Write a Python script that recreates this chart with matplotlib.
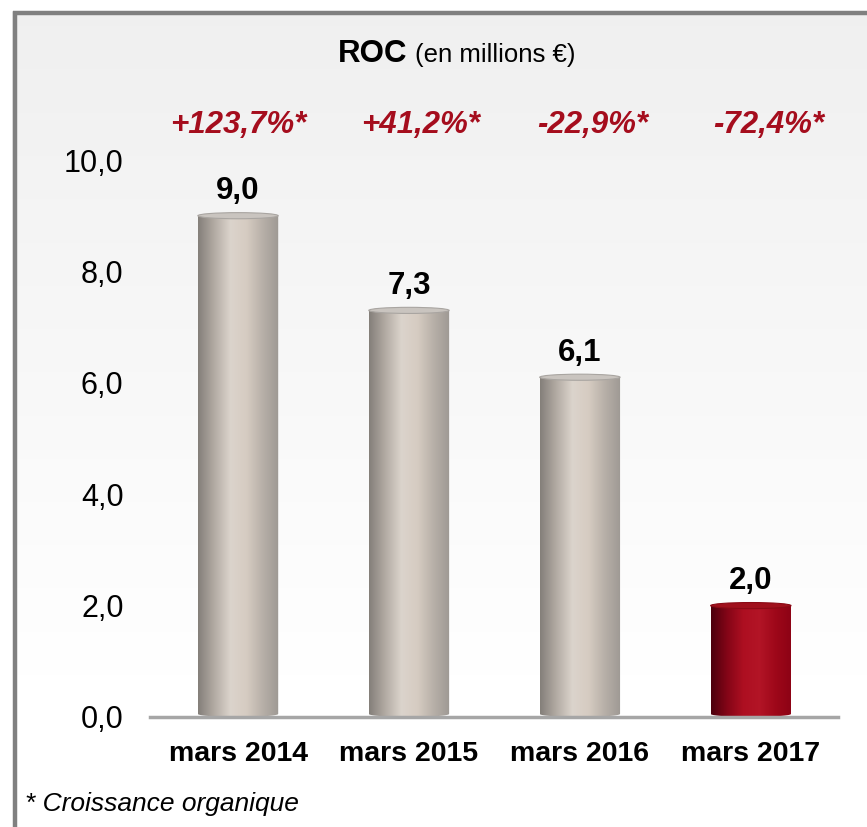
import numpy as np
import matplotlib
matplotlib.use("Agg")
from matplotlib import pyplot as plt
from matplotlib.patches import Ellipse, Polygon

plt.rcParams['font.family'] = ['Liberation Sans', 'DejaVu Sans']

# data
categories = ["mars 2014", "mars 2015", "mars 2016", "mars 2017"]
values = [9.0, 7.3, 6.1, 2.0]
value_labels = ["9,0", "7,3", "6,1", "2,0"]
growth = ["+123,7%*", "+41,2%*", "-22,9%*", "-72,4%*"]
yticks = [0, 2, 4, 6, 8, 10]
ytick_labels = ["0,0", "2,0", "4,0", "6,0", "8,0", "10,0"]

# horizontal nudge of the growth labels (points), they are not quite centred in the original
growth_dx = [0, 8.5, 9, 13]

W, H = 867, 827
fig = plt.figure(figsize=(W / 100, H / 100), dpi=100)

# background + frame
bg = fig.add_axes([0, 0, 1, 1])
bg.set_xlim(0, W)
bg.set_ylim(H, 0)
bg.axis('off')
grad = np.concatenate([np.linspace(0.94, 1.0, 256), np.ones(60)])
bg.imshow(np.dstack([grad, grad, grad]).reshape(-1, 1, 3),
          extent=(12, W + 5, H + 5, 12), aspect='auto', zorder=0)
bg.plot([15, 15], [11, H + 5], color='#808080', lw=3.2, solid_capstyle='butt', zorder=1)
bg.plot([13, W + 5], [12.5, 12.5], color='#808080', lw=3.2, solid_capstyle='butt', zorder=1)

ax = fig.add_axes([150 / W, 1 - 717 / H, (838 - 150) / W, 557 / H])
ax.patch.set_alpha(0)

bw = 0.47
ey = 0.055  # half-height of cylinder ellipse in data units

gray_cols = np.array([[0.52, 0.50, 0.48], [0.70, 0.67, 0.64], [0.86, 0.83, 0.80],
                      [0.84, 0.80, 0.76], [0.72, 0.69, 0.66], [0.62, 0.60, 0.58]])
red_cols = np.array([[0.30, 0.00, 0.05], [0.52, 0.02, 0.09], [0.68, 0.06, 0.13],
                     [0.70, 0.08, 0.15], [0.62, 0.03, 0.10], [0.55, 0.01, 0.08]])


def gradient(cols, n=120):
    xs = np.linspace(0, 1, len(cols))
    t = np.linspace(0, 1, n)
    out = np.stack([np.interp(t, xs, cols[:, k]) for k in range(3)], axis=-1)
    return out[None, :, :]


for i, v in enumerate(values):
    cols = red_cols if i == 3 else gray_cols
    x0, x1 = i - bw / 2, i + bw / 2
    th = np.linspace(np.pi, 2 * np.pi, 40)
    bottom = np.column_stack([i + bw / 2 * np.cos(th), ey + ey * np.sin(th)])
    poly = np.vstack([bottom, [[x1, v], [x0, v]]])
    clip = Polygon(poly, closed=True, transform=ax.transData)
    im = ax.imshow(gradient(cols), extent=(x0, x1, 0, v), aspect='auto', zorder=2)
    im.set_clip_path(clip)
    top_col = '#c9c4bf' if i < 3 else '#a0101c'
    edge_col = '#a9a5a1' if i < 3 else '#8a0a15'
    ax.add_patch(Ellipse((i, v), bw, 2 * ey, facecolor=top_col, edgecolor=edge_col,
                         lw=0.8, zorder=3))
    ax.annotate(value_labels[i], (i, v), xytext=(0, 12), textcoords='offset points',
                ha='center', va='baseline', fontsize=22.5, fontweight='bold', color='black')
    ax.annotate(growth[i], (i, 10.49), xytext=(growth_dx[i], 0), textcoords='offset points',
                ha='center', va='baseline', fontsize=22.5, fontweight='bold',
                fontstyle='italic', color='#a50d1d', annotation_clip=False)

ax.set_xlim(-0.515, 3.51)
ax.set_ylim(0, 10)

for s in ['top', 'right', 'left']:
    ax.spines[s].set_visible(False)
ax.spines['bottom'].set_color('#a6a6a6')
ax.spines['bottom'].set_linewidth(2.5)
ax.set_xticks(range(len(categories)))
ax.set_xticklabels(categories, fontsize=20.5, fontweight='bold')
ax.set_yticks(yticks)
ax.set_yticklabels(ytick_labels, fontsize=22)
ax.tick_params(axis='both', length=0)
ax.tick_params(axis='y', pad=19)
ax.tick_params(axis='x', pad=17)

fig.text(407 / W, 1 - 62 / H, "ROC", ha='right', va='baseline', fontsize=22.5, fontweight='bold')
fig.text(415 / W, 1 - 62 / H, "(en millions €)", ha='left', va='baseline', fontsize=18.5)
fig.text(25 / W, 1 - 811 / H, "* Croissance organique", ha='left', va='baseline',
         fontsize=19, fontstyle='italic')

fig.savefig("out.png", dpi=100)
